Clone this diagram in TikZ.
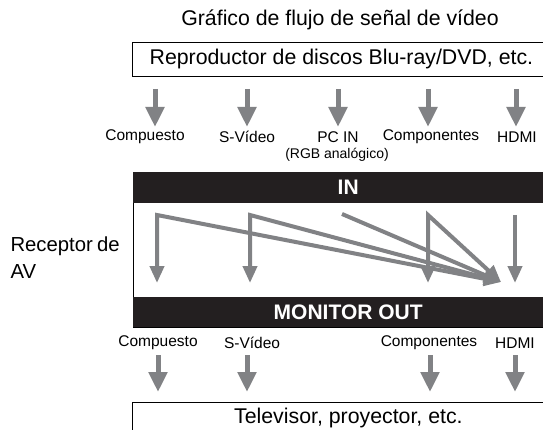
\documentclass[tikz,border=0pt]{standalone}
\usepackage{fontspec}
\setmainfont{Liberation Sans}
\usetikzlibrary{arrows.meta}
\definecolor{arrowgray}{HTML}{818285}
\definecolor{barblack}{HTML}{231F20}
\begin{document}
\begin{tikzpicture}[x=1pt,y=-1pt,
  bigarrow/.style={draw=arrowgray, line width=5pt, -{Triangle[length=20pt,width=18pt]}},
  innerarrow/.style={draw=arrowgray, line width=4pt, -{Triangle[length=17pt,width=14pt]}},
  twoarrow/.style={draw=arrowgray, line width=4pt, line join=miter, {Triangle[length=17pt,width=14pt]}-{Triangle[length=17pt,width=14pt]}},
  bigtext/.style={font=\fontsize{21.3}{25}\selectfont},
  smalltext/.style={font=\fontsize{15.5}{18}\selectfont},
  boxstyle/.style={draw=black, line width=0.8pt, inner sep=0pt, anchor=north west},
  barstyle/.style={fill=barblack, text=white, inner sep=0pt, anchor=north west, font=\fontsize{21}{25}\selectfont\bfseries},
]
\useasboundingbox (0,0) rectangle (543,430);
\clip (0,0) rectangle (543,430);
\fill[white] (0,0) rectangle (543,430);

% title and source
\node[bigtext] (title) at (340,20) {Gráfico de flujo de señal de vídeo};
\node[boxstyle, bigtext, minimum width=418pt, minimum height=34pt] (src) at (132,42) {Reproductor de discos Blu-ray/DVD, etc.};

% top arrows
\foreach \n/\x in {1/155,2/247,3/338,4/428,5/516}{
  \coordinate (t\n s) at (\x,89);
  \coordinate (t\n e) at (\x,127);
  \draw[bigarrow] (t\n s) -- (t\n e);
}

% input labels
\node[smalltext] (li1) at (145,137) {Compuesto};
\node[smalltext] (li2) at (247,137) {S-Vídeo};
\node[smalltext] (li3) at (338,137) {PC IN};
\node[smalltext] (li4) at (431,137) {Componentes};
\node[smalltext] (li5) at (517,137) {HDMI};
\node[font=\fontsize{14}{16}\selectfont] (rgb) at (337,155) {(RGB analógico)};

% receiver frame
\node[boxstyle, minimum width=430pt, minimum height=155pt] (rcv) at (133,172) {};
\node[barstyle, minimum width=430pt, minimum height=31pt] (inbar) at (133,172) {IN};
\node[barstyle, minimum width=430pt, minimum height=30pt] (outbar) at (133,297) {MONITOR OUT};
\node[align=left, anchor=west, font=\fontsize{20.3}{27}\selectfont] (rcvlabel) at (7,258) {Receptor\hspace{-1.5pt} de\\AV};

% internal routing
\coordinate (c1) at (157,215);
\coordinate (c2) at (250,215);
\coordinate (c3) at (342,214);
\coordinate (c4) at (428,215);
\coordinate (c5) at (515,215);
\coordinate (o1) at (157,283);
\coordinate (o2) at (250,283);
\coordinate (o4) at (428,283);
\coordinate (o5) at (515,283);
\coordinate (hd) at (501,282);
\draw[twoarrow] (o1) -- (c1) -- (hd);
\draw[twoarrow] (o2) -- (c2) -- (hd);
\draw[innerarrow] (c3) -- (hd);
\draw[twoarrow] (o4) -- (c4) -- (hd);
\draw[innerarrow] (c5) -- (o5);

% output labels
\node[smalltext] (lo1) at (158,343) {Compuesto};
\node[smalltext] (lo2) at (252,343) {S-Vídeo};
\node[smalltext] (lo4) at (429,343) {Componentes};
\node[smalltext] (lo5) at (515,343) {HDMI};

% bottom arrows
\foreach \n/\x in {1/158,2/247,4/430,5/515}{
  \coordinate (b\n s) at (\x,355);
  \coordinate (b\n e) at (\x,392);
  \draw[bigarrow] (b\n s) -- (b\n e);
}

% destination
\node[boxstyle, bigtext, minimum width=432pt, minimum height=31pt] (dst) at (132,402) {Televisor, proyector, etc.};
\end{tikzpicture}
\end{document}
